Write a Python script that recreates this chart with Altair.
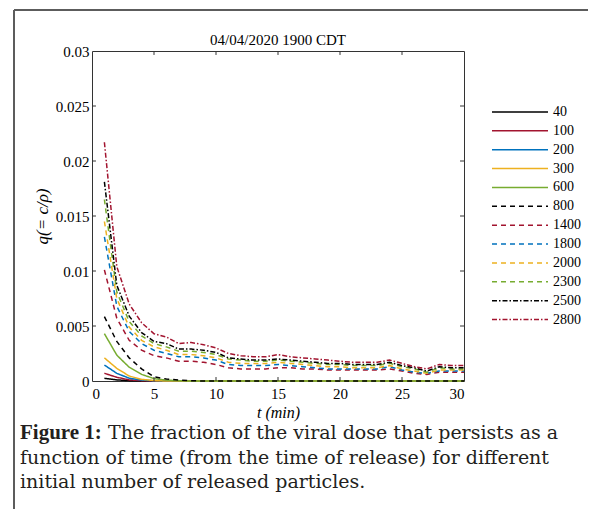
import altair as alt
import pandas as pd

# ---------------- data ----------------
t = [1, 2, 3, 4, 5, 6, 7, 8, 9, 10, 11, 12, 13, 14, 15,
     16, 17, 18, 19, 20, 21, 22, 23, 24, 25, 26, 27, 28, 29, 30]

labels = ["40", "100", "200", "300", "600", "800", "1400", "1800", "2000", "2300", "2500", "2800"]

s40 = [0.00025, 0.00010, 0.00003, 0, 0, 0, 0, 0, 0, 0, 0, 0, 0, 0, 0,
       0, 0, 0, 0, 0, 0, 0, 0, 0, 0, 0, 0, 0, 0, 0]
s100 = [0.00070, 0.00034, 0.00010, 0.00003, 0, 0, 0, 0, 0, 0, 0, 0, 0, 0, 0,
        0, 0, 0, 0, 0, 0, 0, 0, 0, 0, 0, 0, 0, 0, 0]
s200 = [0.00145, 0.00070, 0.00025, 0.00008, 0.00002, 0, 0, 0, 0, 0, 0, 0, 0, 0, 0,
        0, 0, 0, 0, 0, 0, 0, 0, 0, 0, 0, 0, 0, 0, 0]
s300 = [0.00210, 0.00115, 0.00045, 0.00015, 0.00004, 0, 0, 0, 0, 0, 0, 0, 0, 0, 0,
        0, 0, 0, 0, 0, 0, 0, 0, 0, 0, 0, 0, 0, 0, 0]
s600 = [0.00430, 0.00235, 0.00125, 0.00060, 0.00022, 0.00008, 0.00003, 0, 0, 0, 0, 0, 0, 0, 0,
        0, 0, 0, 0, 0, 0, 0, 0, 0, 0, 0, 0, 0, 0, 0]
s800 = [0.00585, 0.00360, 0.00210, 0.00110, 0.00038, 0.00018, 0.00008, 0.00003, 0, 0, 0, 0, 0, 0, 0,
        0, 0, 0, 0, 0, 0, 0, 0, 0, 0, 0, 0, 0, 0, 0]
s1400 = [0.0101, 0.0057, 0.0037, 0.0028, 0.0023, 0.0021, 0.0018, 0.0018, 0.0017, 0.0015,
         0.0012, 0.0011, 0.0011, 0.0011, 0.0012, 0.0012, 0.0011, 0.0011, 0.0010, 0.0010,
         0.0010, 0.0010, 0.0010, 0.0011, 0.0009, 0.0007, 0.0006, 0.0008, 0.0008, 0.0008]
s1800 = [0.0131, 0.0068, 0.0045, 0.0034, 0.0028, 0.0025, 0.0022, 0.0022, 0.0021, 0.0019,
         0.0015, 0.0014, 0.0014, 0.0014, 0.0015, 0.0014, 0.0013, 0.0012, 0.0011, 0.0011,
         0.0011, 0.0011, 0.0011, 0.0013, 0.0010, 0.0008, 0.0007, 0.0009, 0.0009, 0.0009]
s2000 = [0.0145, 0.0075, 0.0049, 0.0037, 0.0031, 0.0028, 0.0024, 0.0024, 0.0023, 0.0021,
         0.0017, 0.0016, 0.0016, 0.0016, 0.0017, 0.0016, 0.0015, 0.0014, 0.0013, 0.0013,
         0.0012, 0.0012, 0.0012, 0.0014, 0.0011, 0.0009, 0.0007, 0.0010, 0.0010, 0.0010]
s2300 = [0.0165, 0.0081, 0.0054, 0.0041, 0.0034, 0.0031, 0.0027, 0.0027, 0.0026, 0.0024,
         0.0020, 0.0019, 0.0018, 0.0018, 0.0019, 0.0018, 0.0017, 0.0016, 0.0015, 0.0015,
         0.0014, 0.0014, 0.0014, 0.0016, 0.0013, 0.0011, 0.0008, 0.0012, 0.0011, 0.0011]
s2500 = [0.0181, 0.0087, 0.0059, 0.0044, 0.0036, 0.0034, 0.0029, 0.0029, 0.0028, 0.0026,
         0.0021, 0.0020, 0.0019, 0.0019, 0.0020, 0.0019, 0.0018, 0.0017, 0.0016, 0.0016,
         0.0015, 0.0015, 0.0015, 0.0017, 0.0014, 0.0012, 0.0009, 0.0013, 0.0012, 0.0012]
s2800 = [0.0217, 0.0104, 0.0070, 0.0053, 0.0043, 0.0040, 0.0034, 0.0035, 0.0033, 0.0030,
         0.0025, 0.0023, 0.0022, 0.0022, 0.0024, 0.0022, 0.0021, 0.0020, 0.0019, 0.0018,
         0.0017, 0.0017, 0.0017, 0.0019, 0.0016, 0.0013, 0.0011, 0.0015, 0.0014, 0.0014]

series = [s40, s100, s200, s300, s600, s800, s1400, s1800, s2000, s2300, s2500, s2800]

colors = ["#000000", "#A2142F", "#0072BD", "#EDB120", "#77AC30",
          "#000000", "#A2142F", "#0072BD", "#EDB120", "#77AC30",
          "#000000", "#A2142F"]
dashes = [[1, 0]] * 5 + [[5, 4]] * 5 + [[5, 2, 1.5, 2]] * 2

x_ticks = [0, 5, 10, 15, 20, 25, 30]
y_ticks = [0, 0.005, 0.01, 0.015, 0.02, 0.025, 0.03]
x_inner = [5, 10, 15, 20, 25]
y_inner = [0.005, 0.01, 0.015, 0.02, 0.025]

title_text = "04/04/2020 1900 CDT"
caption_bold = "Figure 1:"
caption_lines = ["The fraction of the viral dose that persists as a",
                 "function of time (from the time of release) for different",
                 "initial number of released particles."]

# ---------------- tables ----------------
rows = []
for lab, vals in zip(labels, series):
    for tt, q in zip(t, vals):
        rows.append({"t": tt, "q": q, "N": lab})
df = pd.DataFrame(rows)

SERIF = "Liberation Serif"
CAP = "DejaVu Serif"
XLEN = 0.32       # inward tick length (x units)
YLEN = 0.00036    # inward tick length (y units)

xs = alt.Scale(domain=[0, 30], nice=False)
ys = alt.Scale(domain=[0, 0.03], nice=False)
cs = alt.Scale(domain=labels, range=colors)
ds = alt.Scale(domain=labels, range=dashes)

lines = alt.Chart(df).mark_line(strokeWidth=1.5).encode(
    x=alt.X("t:Q", scale=xs,
            axis=alt.Axis(values=x_ticks, ticks=False, domain=False, grid=False,
                          labelPadding=5, title="t (min)", titlePadding=3,
                          titleFontSize=16)),
    y=alt.Y("q:Q", scale=ys,
            axis=alt.Axis(values=y_ticks, ticks=False, domain=False, grid=False,
                          format="~g", labelPadding=3, title="q(= c/ρ)", titlePadding=4,
                          titleFontSize=17)),
    color=alt.Color("N:N", scale=cs, legend=None),
    strokeDash=alt.StrokeDash("N:N", scale=ds, legend=None),
)

bt = pd.DataFrame({"x": x_inner, "y": [0] * 5, "y2": [YLEN] * 5})
tt_ = pd.DataFrame({"x": x_inner, "y": [0.03] * 5, "y2": [0.03 - YLEN] * 5})
lt = pd.DataFrame({"y": y_inner, "x": [0] * 5, "x2": [XLEN] * 5})
rt = pd.DataFrame({"y": y_inner, "x": [30] * 5, "x2": [30 - XLEN] * 5})

tick_col = "#333333"
xt1 = alt.Chart(bt).mark_rule(color=tick_col, strokeWidth=1).encode(
    x=alt.X("x:Q", scale=xs), y=alt.Y("y:Q", scale=ys), y2="y2:Q")
xt2 = alt.Chart(tt_).mark_rule(color=tick_col, strokeWidth=1).encode(
    x=alt.X("x:Q", scale=xs), y=alt.Y("y:Q", scale=ys), y2="y2:Q")
yt1 = alt.Chart(lt).mark_rule(color=tick_col, strokeWidth=1).encode(
    y=alt.Y("y:Q", scale=ys), x=alt.X("x:Q", scale=xs), x2="x2:Q")
yt2 = alt.Chart(rt).mark_rule(color=tick_col, strokeWidth=1).encode(
    y=alt.Y("y:Q", scale=ys), x=alt.X("x:Q", scale=xs), x2="x2:Q")

main = alt.layer(lines, xt1, xt2, yt1, yt2)

# legend drawn from the same color / dash scales
leg_df = pd.DataFrame({"N": labels})
leg_y = alt.Y("N:N", sort=labels,
              scale=alt.Scale(type="point", domain=labels, padding=0, range=[61, 268.6]),
              axis=None)
leg_lines = alt.Chart(leg_df).mark_rule(strokeWidth=1.5).encode(
    x=alt.value(400), x2=alt.value(456), y=leg_y,
    color=alt.Color("N:N", scale=cs, legend=None),
    strokeDash=alt.StrokeDash("N:N", scale=ds, legend=None),
)
leg_text = alt.Chart(leg_df).mark_text(font=SERIF, fontSize=14, align="left",
                                       baseline="middle", color="black").encode(
    x=alt.value(461), y=leg_y, text="N:N")
legend = alt.layer(leg_lines, leg_text)

one = pd.DataFrame({"k": [0]})

# title as a text mark above the plot
title = alt.Chart(one).mark_text(font=SERIF, fontSize=15, align="center",
                                 baseline="middle", color="black").encode(
    x=alt.value(186), y=alt.value(-11), text=alt.value(title_text))

# caption
cap_style = dict(fontSize=19, align="left", baseline="alphabetic", color="#231f20")
cap0 = alt.Chart(one).mark_text(font=SERIF, fontWeight="bold", fontSize=21, align="left",
                                baseline="alphabetic", color="#231f20").encode(
    x=alt.value(-72), y=alt.value(388), text=alt.value(caption_bold))
cap1 = alt.Chart(one).mark_text(font=CAP, **cap_style).encode(
    x=alt.value(16), y=alt.value(388), text=alt.value(caption_lines[0]))
cap2 = alt.Chart(one).mark_text(font=CAP, **cap_style).encode(
    x=alt.value(-72), y=alt.value(412.5), text=alt.value(caption_lines[1]))
cap3 = alt.Chart(one).mark_text(font=CAP, **cap_style).encode(
    x=alt.value(-72), y=alt.value(437), text=alt.value(caption_lines[2]))

# frame (left and top border of the figure box)
frame_col = "#5c5c5c"
fl = alt.Chart(one).mark_rule(color=frame_col, strokeWidth=2).encode(
    x=alt.value(-78), y=alt.value(-41), y2=alt.value(458))
ft = alt.Chart(one).mark_rule(color=frame_col, strokeWidth=2).encode(
    x=alt.value(-78), x2=alt.value(496), y=alt.value(-41))

chart = alt.layer(main, legend, title, cap0, cap1, cap2, cap3, fl, ft).resolve_scale(
    y="independent"
).properties(
    width=372, height=330,
    padding={"left": 5, "top": 1, "right": 1, "bottom": 1},
).configure_view(
    stroke="#333333", strokeWidth=1
).configure_axis(
    labelFont=SERIF, labelFontSize=15, labelColor="black",
    titleFont=SERIF, titleFontSize=15, titleFontStyle="italic",
    titleFontWeight="normal", titleColor="black",
)

chart.save("out.html", embed_options={"renderer": "svg", "actions": False})
